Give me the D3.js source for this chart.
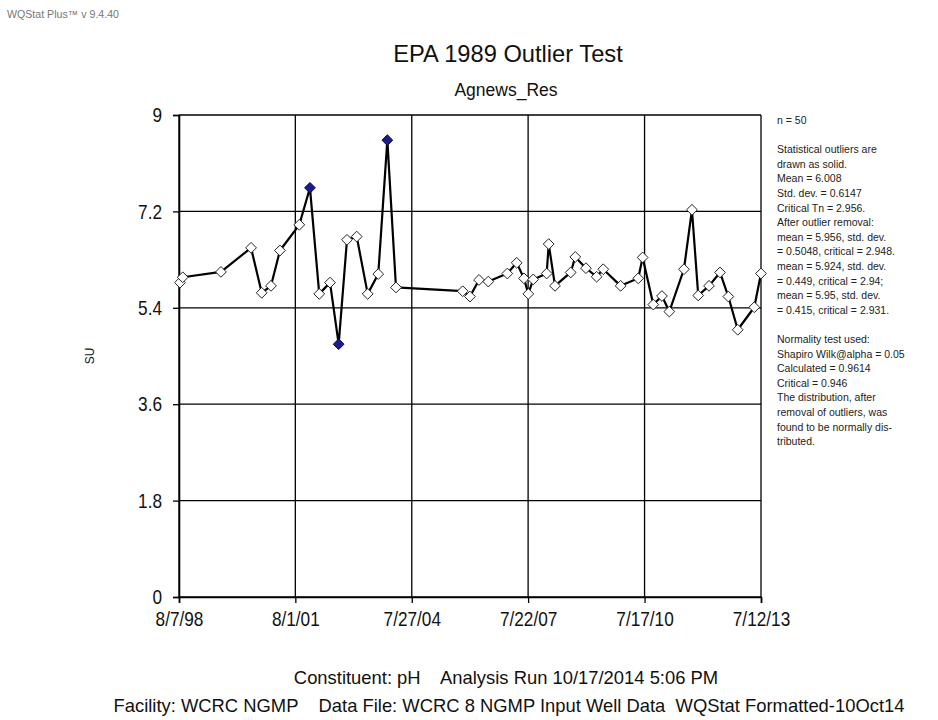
<!DOCTYPE html>
<html>
<head>
<meta charset="utf-8">
<script src="https://cdn.jsdelivr.net/npm/d3@7"></script>
<style>
  html, body { margin: 0; padding: 0; background: #fff; }
  svg { display: block; }
</style>
</head>
<body>
<svg id="chart" width="938" height="720"></svg>
<script>
// pH samples at well Agnews_Res
const sampleDates = [
  "1998-08-16","1998-09-11","1999-09-04","2000-06-12","2000-09-20","2000-12-16","2001-03-10","2001-09-07",
  "2001-12-16","2002-03-13","2002-06-22","2002-09-11","2002-11-28","2003-02-27","2003-06-10","2003-09-17",
  "2003-12-11","2004-03-01","2005-11-16","2006-01-23","2006-04-18","2006-07-14","2007-01-08","2007-04-06",
  "2007-06-13","2007-07-24","2007-09-08","2008-01-12","2008-01-31","2008-03-30","2008-08-24","2008-10-06",
  "2009-01-14","2009-04-24","2009-06-25","2009-12-05","2010-05-19","2010-06-29","2010-10-07","2010-12-27",
  "2011-03-06","2011-07-21","2011-10-04","2011-12-02","2012-03-12","2012-06-23","2012-09-09","2012-12-06",
  "2013-05-10","2013-07-12"
];
const phValues = [
  5.87, 5.97, 6.07, 6.52, 5.68, 5.81, 6.47, 6.95,
  7.64, 5.66, 5.87, 4.72, 6.67, 6.73, 5.66, 6.03,
  8.53, 5.78, 5.71, 5.61, 5.92, 5.89, 6.04, 6.24,
  5.95, 5.66, 5.93, 6.04, 6.59, 5.81, 6.06, 6.35,
  6.14, 5.98, 6.12, 5.81, 5.95, 6.34, 5.46, 5.62,
  5.33, 6.12, 7.23, 5.63, 5.81, 6.06, 5.61, 4.99,
  5.41, 6.04
];
// samples flagged as statistical outliers (drawn solid)
const outlierIndex = [8, 11, 16];

const xTickDates = ["1998-08-07","2001-08-01","2004-07-27","2007-07-22","2010-07-17","2013-07-12"];
const yTickValues = [0, 1.8, 3.6, 5.4, 7.2, 9];

const statsLines = [
  "n = 50",
  "",
  "Statistical outliers are",
  "drawn as solid.",
  "Mean = 6.008",
  "Std. dev. = 0.6147",
  "Critical Tn = 2.956.",
  "After outlier removal:",
  "mean = 5.956, std. dev.",
  "= 0.5048, critical = 2.948.",
  "mean = 5.924, std. dev.",
  "= 0.449, critical = 2.94;",
  "mean = 5.95, std. dev.",
  "= 0.415, critical = 2.931.",
  "",
  "Normality test used:",
  "Shapiro Wilk@alpha = 0.05",
  "Calculated = 0.9614",
  "Critical = 0.946",
  "The distribution, after",
  "removal of outliers, was",
  "found to be normally dis-",
  "tributed."
];

const parse = d3.timeParse("%Y-%m-%d");
const points = sampleDates.map((d, i) => ({
  date: parse(d), value: phValues[i], outlier: outlierIndex.includes(i)
}));

const svg = d3.select("#chart");
const plotLeft = 179, plotRight = 761, plotTop = 115, plotBottom = 597;

const x = d3.scaleTime()
  .domain([parse(xTickDates[0]), parse(xTickDates[xTickDates.length - 1])])
  .range([plotLeft, plotRight]);
const y = d3.scaleLinear().domain([0, 9]).range([plotBottom, plotTop]);

const sans = "Liberation Sans, Arial, Helvetica, sans-serif";
// condensed look for axis text
const narrowScale = 0.82;

// version stamp
svg.append("text").attr("x", 7).attr("y", 18)
  .attr("font-family", sans).attr("font-size", 10.5).attr("fill", "#777")
  .attr("textLength", 112).attr("lengthAdjust", "spacingAndGlyphs")
  .text("WQStat Plus\u2122 v 9.4.40");

// titles
svg.append("text").attr("x", 508).attr("y", 62).attr("text-anchor", "middle")
  .attr("font-family", sans).attr("font-size", 23.7).attr("fill", "#111")
  .text("EPA 1989 Outlier Test");
svg.append("text").attr("x", 506).attr("y", 96).attr("text-anchor", "middle")
  .attr("font-family", sans).attr("font-size", 17.5).attr("fill", "#111")
  .text("Agnews_Res");

// gridlines
const grid = svg.append("g").attr("stroke", "#000").attr("stroke-width", 1.3);
grid.selectAll("line.h").data(yTickValues).join("line")
  .attr("x1", plotLeft).attr("x2", plotRight)
  .attr("y1", d => y(d)).attr("y2", d => y(d));
grid.selectAll("line.v").data(xTickDates.map(parse)).join("line")
  .attr("y1", plotTop).attr("y2", plotBottom)
  .attr("x1", d => x(d)).attr("x2", d => x(d));

// axes
const xAxis = svg.append("g").attr("transform", `translate(0,${plotBottom})`)
  .call(d3.axisBottom(x).tickValues(xTickDates.map(parse))
    .tickFormat(d3.timeFormat("%-m/%-d/%y")).tickSize(6).tickPadding(8));
xAxis.select(".domain").attr("stroke", "#000").attr("stroke-width", 1.6);
xAxis.selectAll(".tick line").attr("stroke", "#000").attr("stroke-width", 1.3);
xAxis.selectAll("text").attr("font-family", sans).attr("font-size", 21).attr("fill", "#111")
  .attr("transform", `scale(${narrowScale},1)`);

const yAxis = svg.append("g").attr("transform", `translate(${plotLeft},0)`)
  .call(d3.axisLeft(y).tickValues(yTickValues).tickFormat(d3.format("")).tickSize(6).tickPadding(14.7));
yAxis.select(".domain").attr("stroke", "#000").attr("stroke-width", 1.6);
yAxis.selectAll(".tick line").attr("stroke", "#000").attr("stroke-width", 1.3);
yAxis.selectAll("text").attr("font-family", sans).attr("font-size", 21).attr("fill", "#111")
  .attr("transform", `scale(${narrowScale},1)`);

// y axis title
svg.append("text").attr("transform", "translate(94,356) rotate(-90)")
  .attr("text-anchor", "middle").attr("font-family", sans).attr("font-size", 12).attr("fill", "#111")
  .text("SU");

// series line
svg.append("path").datum(points)
  .attr("fill", "none").attr("stroke", "#000").attr("stroke-width", 2.2)
  .attr("stroke-linejoin", "round")
  .attr("d", d3.line().x(d => x(d.date)).y(d => y(d.value)));

// diamond markers
const diamond = d3.symbol().type(d3.symbolDiamond2).size(74);
svg.append("g").selectAll("path").data(points).join("path")
  .attr("transform", d => `translate(${x(d.date)},${y(d.value)})`)
  .attr("d", diamond)
  .attr("fill", d => d.outlier ? "#1c1c8e" : "#fff")
  .attr("stroke", d => d.outlier ? "#0a0a50" : "#222")
  .attr("stroke-width", 1);

// statistics notes
const notes = svg.append("text").attr("font-family", sans).attr("font-size", 10.5).attr("fill", "#222");
statsLines.forEach((t, i) => {
  notes.append("tspan").attr("x", 777).attr("y", 124 + i * 14.6).text(t);
});

// footer
svg.append("text").attr("x", 506).attr("y", 684).attr("text-anchor", "middle")
  .attr("font-family", sans).attr("font-size", 18.4).attr("fill", "#111")
  .attr("xml:space", "preserve")
  .text("Constituent: pH    Analysis Run 10/17/2014 5:06 PM");
svg.append("text").attr("x", 509).attr("y", 712).attr("text-anchor", "middle")
  .attr("font-family", sans).attr("font-size", 18.4).attr("fill", "#111")
  .attr("xml:space", "preserve")
  .text("Facility: WCRC NGMP    Data File: WCRC 8 NGMP Input Well Data  WQStat Formatted-10Oct14");
</script>
</body>
</html>
